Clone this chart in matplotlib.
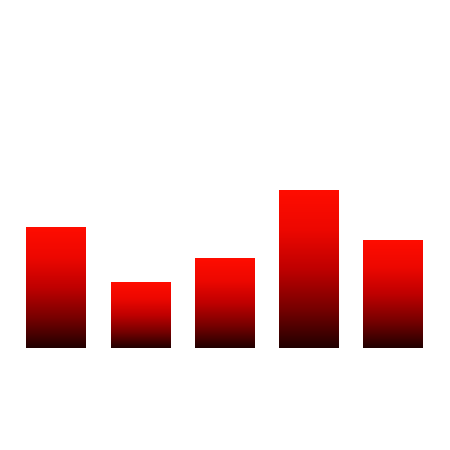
import numpy as np
import matplotlib
matplotlib.use("Agg")
import matplotlib.pyplot as plt
from matplotlib.colors import LinearSegmentedColormap

categories = ["A", "B", "C", "D", "E"]
values = [121, 66, 90, 158, 108]

fig = plt.figure(figsize=(4.5, 4.5), dpi=100)
ax = fig.add_axes([14.06 / 450, 1 - 348.3 / 450, 421.25 / 450, 348.3 / 450])
ax.set_xlim(-0.5, 4.5)
ax.set_ylim(0, 348.3)
ax.axis("off")

# gradient: 0 = bottom (dark), 1 = top (bright red)
cmap = LinearSegmentedColormap.from_list(
    "redblack",
    [(0.0, (0.13, 0.0, 0.0)),
     (0.25, (0.47, 0.0, 0.0)),
     (0.5, (0.75, 0.0, 0.0)),
     (0.75, (0.93, 0.03, 0.0)),
     (1.0, (1.0, 0.05, 0.0))])

x = np.arange(len(categories))
bars = ax.bar(x, values, width=0.706, color="none", edgecolor="none")
grad = np.linspace(0, 1, 256).reshape(-1, 1)
for b in bars:
    x0, w, h = b.get_x(), b.get_width(), b.get_height()
    im = ax.imshow(grad, cmap=cmap, aspect="auto", origin="lower",
                   extent=(x0, x0 + w, 0, h), interpolation="bilinear")
    im.set_clip_path(b)

ax.set_xlim(-0.5, 4.5)
ax.set_ylim(0, 348.3)
fig.savefig("out.png", dpi=100)
